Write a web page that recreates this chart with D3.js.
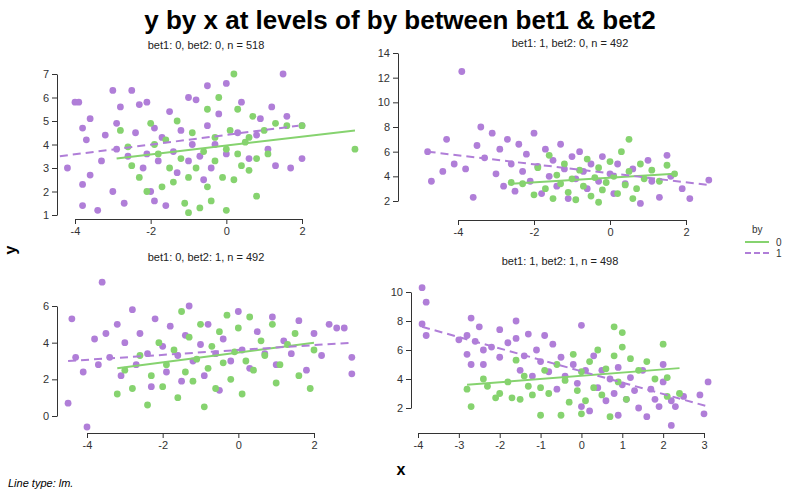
<!DOCTYPE html>
<html><head><meta charset="utf-8">
<script src="https://cdnjs.cloudflare.com/ajax/libs/d3/7.8.5/d3.min.js"></script>
<style>body{margin:0;background:#fff;font-family:"Liberation Sans",Arial,sans-serif}</style>
</head><body><div id="chart"></div>
<script>
// points, [x, y]
const tlGreen = [[-2.8,4.6],[-2.6,3.9],[-2.5,3.1],[-2.3,2.6],[-2.1,2.0],[-2.0,4.9],[-1.8,3.6],[-1.7,2.2],[-1.6,4.2],[-1.4,2.4],[-1.3,5.0],[-1.2,3.4],[-1.1,1.5],[-1.0,1.1],[-1.0,2.6],[-0.9,4.5],[-0.8,3.0],[-0.7,1.3],[-0.6,3.7],[-0.5,5.5],[-0.5,2.2],[-0.4,1.6],[-0.3,3.3],[-0.2,6.0],[-0.1,2.6],[0.0,1.2],[0.0,3.8],[0.1,4.6],[0.2,7.0],[0.2,2.5],[0.3,5.5],[0.4,3.1],[0.5,4.1],[0.6,2.9],[0.7,5.2],[0.8,3.4],[0.8,1.8],[1.0,4.6],[1.1,3.6],[1.3,4.9],[1.6,4.8],[2.0,4.8],[3.4,3.8],[-1.9,4.0],[-1.5,3.0],[-0.3,4.3],[0.3,3.6],[0.6,4.3]];
const tlPurple = [[-4.2,3.0],[-4.0,5.8],[-3.9,5.8],[-3.8,4.7],[-3.8,1.4],[-3.8,2.3],[-3.7,4.2],[-3.6,5.1],[-3.6,2.7],[-3.4,1.2],[-3.3,3.3],[-3.2,4.4],[-3.0,6.3],[-3.0,2.0],[-2.9,3.8],[-2.9,4.9],[-2.8,5.6],[-2.7,1.5],[-2.6,3.5],[-2.5,6.3],[-2.4,4.5],[-2.3,5.7],[-2.2,3.0],[-2.1,5.8],[-2.1,3.6],[-2.0,2.0],[-1.9,4.7],[-1.9,1.6],[-1.8,3.3],[-1.7,4.3],[-1.6,1.4],[-1.5,5.4],[-1.4,3.7],[-1.3,2.8],[-1.2,4.6],[-1.0,3.3],[-1.0,6.0],[-0.9,4.0],[-0.8,5.9],[-0.7,3.5],[-0.6,2.5],[-0.5,6.5],[-0.5,4.8],[-0.4,3.0],[-0.3,4.0],[-0.2,5.3],[0.0,6.6],[0.0,3.6],[0.3,4.5],[0.4,5.8],[0.6,3.4],[0.8,4.4],[0.9,5.1],[1.1,3.8],[1.2,5.6],[1.3,3.1],[1.5,7.0],[1.6,5.2],[1.7,3.0],[2.0,3.4],[2.0,4.8]];
const trGreen = [[-2.3,3.4],[-2.0,2.5],[-1.9,4.7],[-1.7,3.0],[-1.6,5.7],[-1.5,2.2],[-1.4,4.1],[-1.3,3.4],[-1.2,5.0],[-1.1,2.7],[-1.0,3.8],[-0.9,2.1],[-0.8,4.5],[-0.7,3.2],[-0.6,5.4],[-0.5,2.4],[-0.4,3.9],[-0.3,4.7],[-0.2,2.9],[-0.1,3.5],[0.0,5.2],[0.1,4.0],[0.2,2.6],[0.3,6.0],[0.4,3.3],[0.5,7.0],[0.5,4.4],[0.7,3.0],[0.8,5.0],[0.9,3.8],[1.1,4.5],[1.3,3.6],[1.5,4.9],[1.7,4.2],[-2.6,3.5],[-0.3,1.9],[0.6,2.2]];
const trPurple = [[-4.8,6.0],[-4.7,3.6],[-4.4,4.4],[-4.3,7.0],[-4.1,5.0],[-3.9,12.5],[-3.8,4.6],[-3.6,2.3],[-3.5,6.5],[-3.4,8.0],[-3.3,5.5],[-3.1,7.5],[-3.0,4.2],[-2.9,6.2],[-2.8,3.2],[-2.7,7.0],[-2.6,5.0],[-2.5,2.8],[-2.4,6.6],[-2.3,4.4],[-2.2,5.8],[-2.1,3.6],[-2.0,7.5],[-1.9,4.8],[-1.8,2.6],[-1.7,6.2],[-1.6,4.0],[-1.5,5.3],[-1.4,3.2],[-1.3,6.6],[-1.2,4.6],[-1.1,2.2],[-1.0,5.6],[-0.9,3.8],[-0.8,6.0],[-0.7,4.4],[-0.6,3.0],[-0.5,5.0],[-0.3,3.6],[-0.2,5.6],[0.0,4.2],[0.1,2.6],[0.2,5.0],[0.4,3.4],[0.6,4.6],[0.8,1.8],[1.0,5.3],[1.1,3.6],[1.3,2.3],[1.5,5.7],[1.6,4.0],[1.9,3.0],[2.1,2.2],[2.6,3.7]];
const blGreen = [[-3.2,1.2],[-3.0,2.5],[-2.8,1.5],[-2.6,3.3],[-2.4,0.6],[-2.3,2.2],[-2.1,4.0],[-2.0,1.6],[-1.9,2.8],[-1.7,3.6],[-1.6,1.0],[-1.5,5.7],[-1.4,2.4],[-1.3,4.3],[-1.2,1.9],[-1.1,3.1],[-1.0,5.0],[-0.9,0.5],[-0.8,2.6],[-0.7,3.8],[-0.6,1.5],[-0.5,4.6],[-0.4,2.9],[-0.3,5.5],[-0.2,2.0],[-0.1,3.5],[0.0,4.8],[0.1,1.2],[0.2,3.0],[0.3,5.4],[0.4,2.5],[0.6,4.1],[0.7,3.3],[0.9,5.0],[1.1,2.8],[1.3,3.9],[1.5,4.5],[1.6,2.2],[1.9,1.5],[2.0,3.6],[1.0,1.8]];
const blPurple = [[-4.5,0.7],[-4.4,5.3],[-4.3,3.2],[-4.1,2.4],[-4.0,-0.6],[-3.8,4.2],[-3.7,2.8],[-3.6,7.3],[-3.5,4.5],[-3.4,3.2],[-3.2,5.0],[-3.1,2.2],[-3.0,4.0],[-2.8,5.8],[-2.7,2.8],[-2.6,4.5],[-2.4,3.4],[-2.3,1.6],[-2.2,5.3],[-2.0,3.8],[-1.9,2.4],[-1.8,4.9],[-1.6,3.3],[-1.5,1.9],[-1.4,4.4],[-1.3,6.0],[-1.2,3.0],[-1.0,3.9],[-0.9,2.2],[-0.8,5.0],[-0.6,3.4],[-0.5,1.4],[-0.4,4.2],[-0.2,3.0],[0.0,5.7],[0.1,3.6],[0.3,2.6],[0.5,4.6],[0.7,3.4],[0.9,5.4],[1.0,2.8],[1.2,4.1],[1.4,3.4],[1.6,5.2],[1.8,2.5],[2.0,4.5],[2.2,3.3],[2.4,5.0],[2.6,4.8],[2.8,4.8],[3.0,2.3],[3.0,3.2]];
const brGreen = [[-2.8,3.3],[-2.7,2.1],[-2.4,4.0],[-2.3,3.5],[-2.1,2.7],[-2.0,3.0],[-1.8,3.8],[-1.7,2.7],[-1.6,5.3],[-1.5,2.6],[-1.4,4.2],[-1.3,3.5],[-1.2,2.9],[-1.0,3.4],[-1.0,1.5],[-0.9,4.6],[-0.8,3.0],[-0.6,5.0],[-0.5,1.5],[-0.4,3.9],[-0.3,2.4],[-0.2,5.7],[-0.1,3.2],[0.0,1.6],[0.0,4.5],[0.1,2.5],[0.2,5.2],[0.3,3.4],[0.4,6.0],[0.5,2.9],[0.6,4.7],[0.7,1.4],[0.8,5.6],[0.8,7.6],[0.9,3.8],[1.0,6.2],[1.0,7.2],[1.1,2.6],[1.2,5.4],[1.4,4.6],[1.6,5.2],[1.8,4.0],[2.0,6.4],[2.1,4.1],[2.1,2.8],[2.4,3.0]];
const brPurple = [[-3.9,7.8],[-3.9,10.3],[-3.8,9.3],[-3.8,7.0],[-3.0,6.7],[-2.8,5.7],[-2.8,7.0],[-2.7,8.2],[-2.7,5.0],[-2.6,6.6],[-2.5,7.6],[-2.4,6.0],[-2.4,5.0],[-2.2,6.2],[-2.0,7.4],[-2.0,5.5],[-1.8,6.5],[-1.6,8.0],[-1.6,6.8],[-1.5,4.6],[-1.4,5.6],[-1.3,7.1],[-1.2,4.2],[-1.1,6.0],[-1.0,5.2],[-0.9,7.0],[-0.8,4.5],[-0.7,6.4],[-0.6,3.3],[-0.5,5.5],[-0.4,4.2],[-0.2,5.0],[-0.1,3.7],[0.0,7.7],[0.0,2.1],[0.1,4.6],[0.2,1.8],[0.3,5.6],[0.4,3.4],[0.5,4.6],[0.6,2.5],[0.7,4.0],[0.8,3.0],[0.9,4.8],[0.9,1.5],[1.0,3.6],[1.1,2.6],[1.2,4.1],[1.3,3.2],[1.4,2.0],[1.5,4.6],[1.6,1.4],[1.7,3.3],[1.8,2.6],[1.9,2.1],[2.0,5.0],[2.0,3.8],[2.2,2.5],[2.2,0.8],[2.3,2.1],[2.5,2.8],[2.9,2.9],[3.0,1.6],[3.1,3.8]];

// lm fit endpoints
const fitsGreen = [[[-2.9,3.4],[3.4,4.6]], [[-2.6,3.4],[1.7,4.2]], [[-3.2,2.6],[2.0,4.0]], [[-2.8,3.6],[2.4,4.75]]];
const fitsPurple = [[[-4.4,3.5],[1.9,4.8]], [[-4.8,6.0],[2.6,3.3]], [[-4.5,3.0],[3.0,4.0]], [[-3.9,7.6],[3.1,2.1]]];

const panelTitles = ["bet1: 0, bet2: 0, n = 518", "bet1: 1, bet2: 0, n = 492", "bet1: 0, bet2: 1, n = 492", "bet1: 1, bet2: 1, n = 498"];
const xTicks = [[-4,-2,0,2], [-4,-2,0,2], [-4,-2,0,2], [-4,-3,-2,-1,0,1,2,3]];
const yTicks = [[1,2,3,4,5,6,7], [2,4,6,8,10,12,14], [0,2,4,6], [2,4,6,8,10]];
const greens = [tlGreen, trGreen, blGreen, brGreen];
const purples = [tlPurple, trPurple, blPurple, brPurple];

const green = "#86d36f", purple = "#b07ed8";

// pixel layout of each panel
const layout = [
  {xr:[75,302], yr:[215,74], axX:57, axY:219, tx:206, ty:49},
  {xr:[458,686], yr:[201,53], axX:398, axY:220, tx:570, ty:47},
  {xr:[87,314], yr:[416,306], axX:57, axY:433, tx:206, ty:261},
  {xr:[418,704], yr:[408,292], axX:411, axY:433, tx:560, ty:265}
];

const svg = d3.select("#chart").append("svg").attr("width", 799).attr("height", 494);

svg.append("text").attr("x", 400).attr("y", 29).attr("text-anchor", "middle")
  .style("font-size", "26px").style("font-weight", "bold").text("y by x at levels of by between bet1 & bet2");

layout.forEach((L, i) => {
  const xt = xTicks[i], yt = yTicks[i];
  const x = d3.scaleLinear().domain([xt[0], xt[xt.length-1]]).range(L.xr);
  const y = d3.scaleLinear().domain([yt[0], yt[yt.length-1]]).range(L.yr);
  const g = svg.append("g");

  g.append("text").attr("x", L.tx).attr("y", L.ty).attr("text-anchor", "middle")
    .style("font-size", "11px").attr("fill", "#222").text(panelTitles[i]);

  const fmt = d => String(d);
  const xa = g.append("g").attr("transform", `translate(0,${L.axY})`)
    .call(d3.axisBottom(x).tickValues(xt).tickFormat(fmt).tickSize(5).tickSizeOuter(0));
  const ya = g.append("g").attr("transform", `translate(${L.axX},0)`)
    .call(d3.axisLeft(y).tickValues(yt).tickFormat(fmt).tickSize(5).tickSizeOuter(0));
  [xa, ya].forEach(a => {
    a.selectAll("text").style("font-size", "11px").attr("fill", "#333").style("font-family", "Liberation Sans, Arial");
    a.selectAll("line,path").attr("stroke", "#333");
  });

  [[purples[i], purple], [greens[i], green]].forEach(([pts, c]) => {
    g.append("g").selectAll("circle").data(pts).enter().append("circle")
      .attr("cx", d => x(d[0])).attr("cy", d => y(d[1])).attr("r", 3.4)
      .attr("fill", c);
  });

  const line = d3.line().x(d => x(d[0])).y(d => y(d[1]));
  g.append("path").datum(fitsGreen[i]).attr("d", line).attr("stroke", green)
    .attr("stroke-width", 2).attr("fill", "none");
  g.append("path").datum(fitsPurple[i]).attr("d", line).attr("stroke", purple)
    .attr("stroke-width", 2).attr("stroke-dasharray", "8,5").attr("fill", "none");
});

svg.append("text").attr("x", 10).attr("y", 250).attr("text-anchor", "middle")
  .attr("transform", "rotate(-90,10,250)").attr("dy", "0.35em")
  .style("font-size", "16px").style("font-weight", "bold").text("y");
svg.append("text").attr("x", 401).attr("y", 475).attr("text-anchor", "middle")
  .style("font-size", "16px").style("font-weight", "bold").text("x");
svg.append("text").attr("x", 8).attr("y", 487).style("font-size", "11px")
  .style("font-style", "italic").text("Line type: lm.");

// legend
const lg = svg.append("g");
lg.append("text").attr("x", 752).attr("y", 233).style("font-size", "10px").attr("fill", "#333").text("by");
[["0", green, null], ["1", purple, "6,3"]].forEach(([lab, c, dash], k) => {
  const yy = 242 + k * 11;
  lg.append("line").attr("x1", 745).attr("x2", 769).attr("y1", yy).attr("y2", yy)
    .attr("stroke", c).attr("stroke-width", 2).attr("stroke-dasharray", dash);
  lg.append("text").attr("x", 776).attr("y", yy + 3.5).style("font-size", "10px").attr("fill", "#333").text(lab);
});
</script></body></html>
